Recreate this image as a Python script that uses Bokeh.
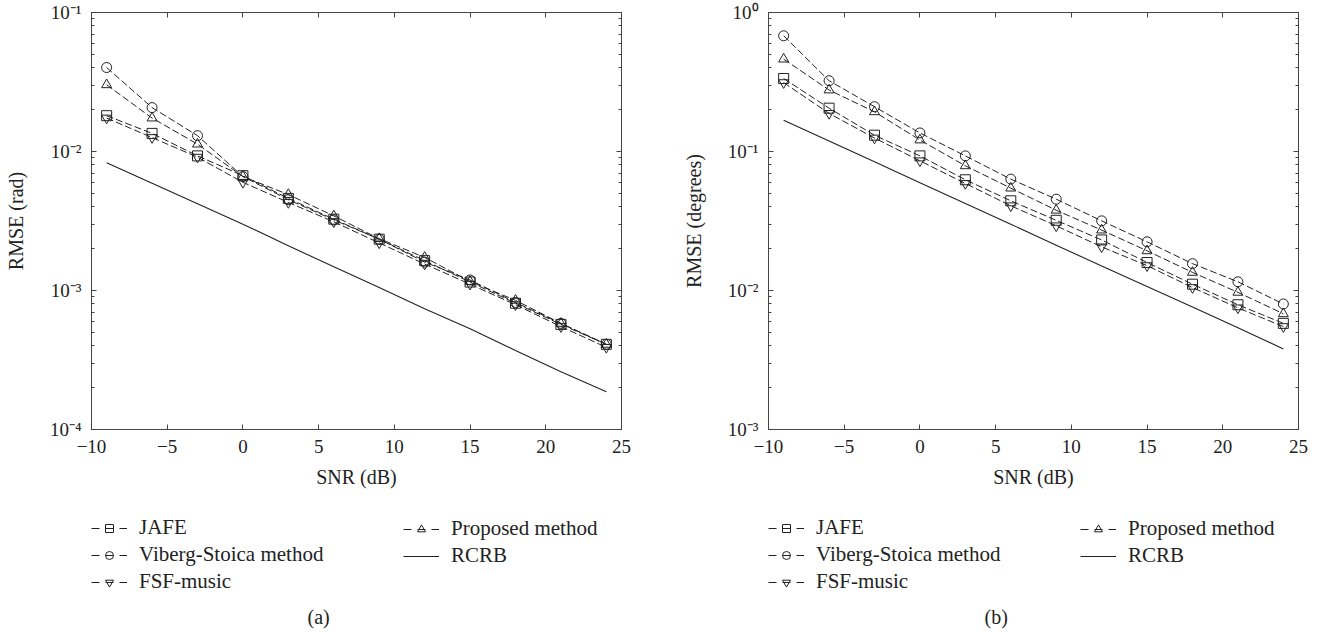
from bokeh.plotting import figure
from bokeh.models import (FixedTicker, LogAxis, LinearAxis, Legend, LegendItem, Label,
                          Range1d, CustomJSTickFormatter)
from bokeh.layouts import row, column
from bokeh.embed import file_html
from bokeh.resources import INLINE

# ---------------- data ----------------
snr = [-9, -6, -3, 0, 3, 6, 9, 12, 15, 18, 21, 24]

# (a) RMSE (rad)
a_jafe = [0.0181, 0.0135, 0.0093, 0.0067, 0.0046, 0.00326, 0.00234, 0.00164, 0.00115, 0.00081, 0.00057, 0.00041]
a_vs = [0.0402, 0.0207, 0.0130, 0.0066, 0.0045, 0.00322, 0.00234, 0.00160, 0.00119, 0.00082, 0.00058, 0.00041]
a_fsf = [0.0174, 0.0126, 0.0091, 0.0060, 0.0043, 0.00312, 0.00220, 0.00155, 0.00111, 0.00079, 0.00055, 0.00039]
a_prop = [0.0302, 0.0174, 0.0113, 0.0066, 0.0049, 0.00344, 0.00236, 0.00173, 0.00116, 0.00085, 0.00058, 0.00041]
a_rcrb = [0.0083, 0.0059, 0.0042, 0.0030, 0.0021, 0.00148, 0.00105, 0.00074, 0.00053, 0.00037, 0.00026, 0.000187]

# (b) RMSE (degrees)
b_jafe = [0.335, 0.205, 0.131, 0.093, 0.0626, 0.0442, 0.032, 0.0231, 0.0159, 0.0111, 0.0079, 0.0058]
b_vs = [0.68, 0.323, 0.21, 0.136, 0.093, 0.0633, 0.0454, 0.0317, 0.0224, 0.0156, 0.01155, 0.0080]
b_fsf = [0.313, 0.188, 0.125, 0.0857, 0.0589, 0.0407, 0.0292, 0.0206, 0.0151, 0.0105, 0.0075, 0.0055]
b_prop = [0.462, 0.277, 0.193, 0.121, 0.0789, 0.0545, 0.0378, 0.0272, 0.0193, 0.0135, 0.0097, 0.0068]
b_rcrb = [0.168, 0.119, 0.0843, 0.0597, 0.0423, 0.0300, 0.0212, 0.0150, 0.0107, 0.0076, 0.0054, 0.0038]

x_ticks = [-10, -5, 0, 5, 10, 15, 20, 25]
x_tick_labels = {-10: "\u221210", -5: "\u22125", 0: "0", 5: "5", 10: "10", 15: "15", 20: "20", 25: "25"}

series_names = ["JAFE", "Viberg-Stoica method", "FSF-music", "Proposed method", "RCRB"]
markers = ["square", "circle", "inverted_triangle", "triangle", None]

FONT = "Liberation Serif"
INK = "#222222"
AXC = "#444444"
DASH = "7 3"
LEG_DASH = "8 6"

SUP = {"-": "\u207b", "0": "\u2070", "1": "\u00b9", "2": "\u00b2", "3": "\u00b3", "4": "\u2074"}


def sup_label(e):
    return "10" + "".join(SUP[c] for c in str(e))


def make_panel(series, y_lo_exp, y_hi_exp, ylabel, bl, br):
    p = figure(frame_width=530, frame_height=417, x_axis_type="linear", y_axis_type="log",
               x_range=Range1d(-10, 25), y_range=Range1d(10 ** y_lo_exp, 10 ** y_hi_exp),
               output_backend="svg", toolbar_location=None,
               min_border_left=bl, min_border_right=br, min_border_top=12, min_border_bottom=71)
    p.xgrid.visible = False
    p.ygrid.visible = False
    p.outline_line_color = AXC
    p.outline_line_width = 1

    exps = list(range(y_lo_exp, y_hi_exp + 1))
    majors = [10.0 ** e for e in exps]
    minors = [m * 10.0 ** e for e in exps[:-1] for m in range(2, 10)]
    yt = FixedTicker(ticks=majors, minor_ticks=minors)
    xt = FixedTicker(ticks=x_ticks, minor_ticks=[])
    ylabels = {10.0 ** e: sup_label(e) for e in exps}

    for ax in (p.xaxis[0], p.yaxis[0]):
        ax.major_tick_in = 5
        ax.major_tick_out = 0
        ax.minor_tick_in = 3
        ax.minor_tick_out = 0
        ax.axis_line_color = AXC
        ax.major_tick_line_color = AXC
        ax.minor_tick_line_color = AXC
        ax.major_label_text_font = FONT
        ax.major_label_text_font_size = "19px"
        ax.major_label_text_color = INK
        ax.axis_label_text_font = FONT
        ax.axis_label_text_font_size = "20px"
        ax.axis_label_text_font_style = "normal"
        ax.axis_label_text_color = INK

    p.xaxis[0].ticker = xt
    p.xaxis[0].major_label_overrides = x_tick_labels
    p.xaxis[0].major_label_standoff = 10
    p.xaxis[0].axis_label = "SNR (dB)"
    p.xaxis[0].axis_label_standoff = 10

    p.yaxis[0].ticker = yt
    p.yaxis[0].major_label_overrides = ylabels
    p.yaxis[0].major_label_standoff = 10
    p.yaxis[0].axis_label = ylabel
    p.yaxis[0].axis_label_standoff = 20

    blank = CustomJSTickFormatter(code="return ''")
    top = LinearAxis(ticker=xt, formatter=blank, major_tick_in=5, major_tick_out=0,
                     minor_tick_in=0, minor_tick_out=0, major_label_standoff=0,
                     axis_line_color=AXC, major_tick_line_color=AXC)
    right = LogAxis(ticker=yt, formatter=blank, major_tick_in=5, major_tick_out=0,
                    minor_tick_in=3, minor_tick_out=0, major_label_standoff=0,
                    axis_line_color=AXC, major_tick_line_color=AXC, minor_tick_line_color=AXC)
    p.add_layout(top, "above")
    p.add_layout(right, "right")

    for vals, mk in zip(series, markers):
        if mk is None:
            p.line(snr, vals, line_color=INK, line_width=1.1)
        else:
            p.line(snr, vals, line_color=INK, line_width=1, line_dash=DASH)
            p.scatter(snr, vals, marker=mk, size=10, fill_color=None,
                      line_color=INK, line_width=1)
    return p


def make_legend_panel(series, caption, bl, br, width):
    """Legend + caption strip below a panel; the series are drawn off-view so that
    only the legend swatches show."""
    fw = width - bl - br
    top_pad = 15
    fh = 132 - top_pad
    x0 = 100  # view starts past the SNR data so the proxy lines stay hidden
    q = figure(frame_width=fw, frame_height=fh, x_range=Range1d(x0, x0 + fw),
               y_range=Range1d(0, fh), x_axis_type=None, y_axis_type=None,
               output_backend="svg", toolbar_location=None,
               min_border_left=bl, min_border_right=br, min_border_top=top_pad,
               min_border_bottom=0)
    q.xgrid.visible = False
    q.ygrid.visible = False
    q.outline_line_color = None
    items = []
    for name, vals, mk in zip(series_names, series, markers):
        if mk is None:
            ln = q.line(snr, vals, line_color=INK, line_width=1.1)
            items.append(LegendItem(label=name, renderers=[ln]))
        else:
            ln = q.line(snr, vals, line_color=INK, line_width=1, line_dash=LEG_DASH)
            sc = q.scatter(snr, vals, marker=mk, size=8, fill_color=None,
                           line_color=INK, line_width=1)
            items.append(LegendItem(label=name, renderers=[ln, sc]))

    common = dict(label_text_font=FONT, label_text_font_size="21px", label_text_color=INK,
                  glyph_width=36, glyph_height=20, label_height=20, label_standoff=12,
                  spacing=2, padding=0, margin=0, border_line_color=None,
                  background_fill_alpha=0, orientation="vertical")
    leg1 = Legend(items=items[:3], location="top_left", **common)
    leg2 = Legend(items=items[3:], location=(312, fh - 53), **common)
    q.add_layout(leg1, "center")
    q.add_layout(leg2, "center")
    cap = Label(x=x0 + 216, y=fh - 101, text=caption,
                text_font=FONT, text_font_size="20px", text_color=INK,
                text_baseline="middle", text_align="left")
    q.add_layout(cap)
    return q


sa = [a_jafe, a_vs, a_fsf, a_prop, a_rcrb]
sb = [b_jafe, b_vs, b_fsf, b_prop, b_rcrb]
pa = make_panel(sa, -4, -1, "RMSE (rad)", 91, 45)
pb = make_panel(sb, -3, 0, "RMSE (degrees)", 102, 35)
la = make_legend_panel(sa, "(a)", 91, 45, 666)
lb = make_legend_panel(sb, "(b)", 102, 35, 667)

layout = row(column(pa, la), column(pb, lb))
open("out.html", "w").write(file_html(layout, INLINE))
